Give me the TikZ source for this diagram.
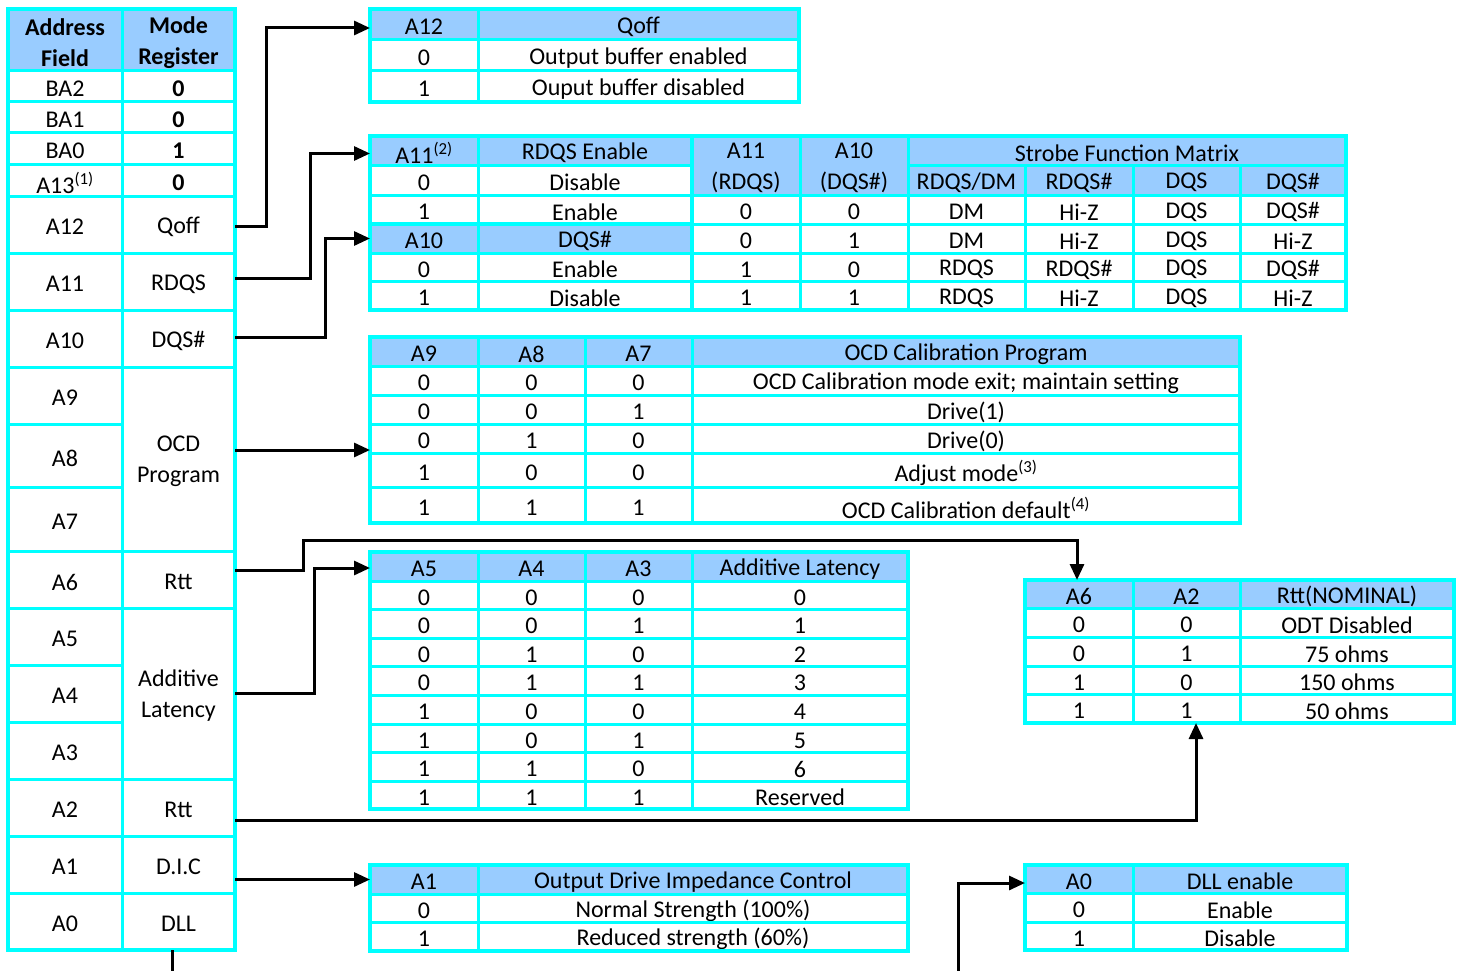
\documentclass[tikz,border=0pt]{standalone}
\usepackage{fontspec}
\setmainfont{Carlito}
\usetikzlibrary{arrows.meta}

\definecolor{hdrblue}{HTML}{99CCFF}
\definecolor{gridcyan}{HTML}{00FFFF}

\tikzset{
  cell/.style={draw=gridcyan,line width=3pt,fill=white,inner sep=0pt,outer sep=0pt},
  celltext/.style={inner sep=0pt,align=center,font=\fontsize{24}{31}\selectfont},
  hcell/.style={fill=hdrblue},
  frame/.style={draw=gridcyan,line width=4.5pt},
  conn/.style={draw=black,line width=3pt,-{Triangle[length=16pt,width=14pt]}},
}

% \regcell[opts]{name}{x1}{y1}{x2}{y2}{text}, corners in pixels
\newcommand{\regcell}[7][]{\node[cell,#1,minimum width={(#5-#3)*1pt},minimum height={(#6-#4)*1pt}] (#2) at ({(#3+#5)/2},{(#4+#6)/2}) {};
  \node[celltext] (#2t) at ([yshift=-2.5pt]#2.center) {#7};}

\begin{document}
\begin{tikzpicture}[x=1pt,y=-1pt]
\useasboundingbox (0,0) rectangle (1461,971);
\fill[white] (0,0) rectangle (1461,971);
\clip (0,0) rectangle (1461,971);

% mode register fields
\regcell[hcell]{mhA}{8}{9}{122}{71}{\textbf{Address}\\\textbf{Field}}
\regcell[hcell]{mhM}{122}{9}{235}{71}{\textbf{Mode}\\\textbf{Register}}
\regcell{mBA2}{8}{71}{122}{102}{BA2}
\regcell{mBA2v}{122}{71}{235}{102}{\textbf{0}}
\regcell{mBA1}{8}{102}{122}{133}{BA1}
\regcell{mBA1v}{122}{102}{235}{133}{\textbf{0}}
\regcell{mBA0}{8}{133}{122}{164}{BA0}
\regcell{mBA0v}{122}{133}{235}{164}{\textbf{1}}
\regcell{mA13}{8}{164}{122}{196}{A13\textsuperscript{(1)}}
\regcell{mA13v}{122}{164}{235}{196}{\textbf{0}}
\regcell{mA12}{8}{196}{122}{253}{A12}
\regcell{mQoff}{122}{196}{235}{253}{Qoff}
\regcell{mA11}{8}{253}{122}{310}{A11}
\regcell{mRDQS}{122}{253}{235}{310}{RDQS}
\regcell{mA10}{8}{310}{122}{367}{A10}
\regcell{mDQS}{122}{310}{235}{367}{DQS\#}
\regcell{mA9}{8}{367}{122}{424}{A9}
\regcell{mA8}{8}{424}{122}{487}{A8}
\regcell{mA7}{8}{487}{122}{551}{A7}
\regcell{mOCD}{122}{367}{235}{551}{OCD\\Program}
\regcell{mA6}{8}{551}{122}{608}{A6}
\regcell{mRttA}{122}{551}{235}{608}{Rtt}
\regcell{mA5}{8}{608}{122}{665}{A5}
\regcell{mA4}{8}{665}{122}{722}{A4}
\regcell{mA3}{8}{722}{122}{779}{A3}
\regcell{mAL}{122}{608}{235}{779}{Additive\\Latency}
\regcell{mA2}{8}{779}{122}{836}{A2}
\regcell{mRttB}{122}{779}{235}{836}{Rtt}
\regcell{mA1}{8}{836}{122}{893}{A1}
\regcell{mDIC}{122}{836}{235}{893}{D.I.C}
\regcell{mA0}{8}{893}{122}{950}{A0}
\regcell{mDLL}{122}{893}{235}{950}{DLL}

% Qoff
\regcell[hcell]{qA12}{370}{9}{478}{40}{A12}
\regcell[hcell]{qQoff}{478}{9}{799}{40}{Qoff}
\regcell{q0}{370}{40}{478}{71}{0}
\regcell{q0v}{478}{40}{799}{71}{Output buffer enabled}
\regcell{q1}{370}{71}{478}{102}{1}
\regcell{q1v}{478}{71}{799}{102}{Ouput buffer disabled}

% RDQS / DQS# and strobe function matrix
\regcell[hcell]{sA11}{370}{136}{478}{165}{A11\textsuperscript{(2)}}
\regcell[hcell]{sRE}{478}{136}{692}{165}{RDQS Enable}
\regcell{sA11a}{370}{165}{478}{195}{0}
\regcell{sA11av}{478}{165}{692}{195}{Disable}
\regcell{sA11b}{370}{195}{478}{224}{1}
\regcell{sA11bv}{478}{195}{692}{224}{Enable}
\regcell[hcell]{sA10}{370}{224}{478}{253}{A10}
\regcell[hcell]{sDQS}{478}{224}{692}{253}{DQS\#}
\regcell{sA10a}{370}{253}{478}{281}{0}
\regcell{sA10av}{478}{253}{692}{281}{Enable}
\regcell{sA10b}{370}{281}{478}{310}{1}
\regcell{sA10bv}{478}{281}{692}{310}{Disable}
\regcell[hcell]{sHA11}{692}{136}{800}{195}{A11\\(RDQS)}
\regcell[hcell]{sHA10}{800}{136}{908}{195}{A10\\(DQS\#)}
\regcell[hcell]{sSFM}{908}{136}{1346}{165}{Strobe Function Matrix}
\regcell[hcell]{sH1}{908}{165}{1025}{195}{RDQS/DM}
\regcell[hcell]{sH2}{1025}{165}{1133}{195}{RDQS\#}
\regcell[hcell]{sH3}{1133}{165}{1240}{195}{DQS}
\regcell[hcell]{sH4}{1240}{165}{1346}{195}{DQS\#}
\regcell{s1a}{692}{195}{800}{224}{0}
\regcell{s1b}{800}{195}{908}{224}{0}
\regcell{s1c}{908}{195}{1025}{224}{DM}
\regcell{s1d}{1025}{195}{1133}{224}{Hi-Z}
\regcell{s1e}{1133}{195}{1240}{224}{DQS}
\regcell{s1f}{1240}{195}{1346}{224}{DQS\#}
\regcell{s2a}{692}{224}{800}{253}{0}
\regcell{s2b}{800}{224}{908}{253}{1}
\regcell{s2c}{908}{224}{1025}{253}{DM}
\regcell{s2d}{1025}{224}{1133}{253}{Hi-Z}
\regcell{s2e}{1133}{224}{1240}{253}{DQS}
\regcell{s2f}{1240}{224}{1346}{253}{Hi-Z}
\regcell{s3a}{692}{253}{800}{281}{1}
\regcell{s3b}{800}{253}{908}{281}{0}
\regcell{s3c}{908}{253}{1025}{281}{RDQS}
\regcell{s3d}{1025}{253}{1133}{281}{RDQS\#}
\regcell{s3e}{1133}{253}{1240}{281}{DQS}
\regcell{s3f}{1240}{253}{1346}{281}{DQS\#}
\regcell{s4a}{692}{281}{800}{310}{1}
\regcell{s4b}{800}{281}{908}{310}{1}
\regcell{s4c}{908}{281}{1025}{310}{RDQS}
\regcell{s4d}{1025}{281}{1133}{310}{Hi-Z}
\regcell{s4e}{1133}{281}{1240}{310}{DQS}
\regcell{s4f}{1240}{281}{1346}{310}{Hi-Z}

% OCD calibration program
\regcell[hcell]{oA9}{370}{337}{478}{366}{A9}
\regcell[hcell]{oA8}{478}{337}{585}{366}{A8}
\regcell[hcell]{oA7}{585}{337}{692}{366}{A7}
\regcell[hcell]{oHd}{692}{337}{1240}{366}{OCD Calibration Program}
\regcell{o1a}{370}{366}{478}{395}{0}
\regcell{o1b}{478}{366}{585}{395}{0}
\regcell{o1c}{585}{366}{692}{395}{0}
\regcell{o1d}{692}{366}{1240}{395}{OCD Calibration mode exit; maintain setting}
\regcell{o2a}{370}{395}{478}{424}{0}
\regcell{o2b}{478}{395}{585}{424}{0}
\regcell{o2c}{585}{395}{692}{424}{1}
\regcell{o2d}{692}{395}{1240}{424}{Drive(1)}
\regcell{o3a}{370}{424}{478}{453}{0}
\regcell{o3b}{478}{424}{585}{453}{1}
\regcell{o3c}{585}{424}{692}{453}{0}
\regcell{o3d}{692}{424}{1240}{453}{Drive(0)}
\regcell{o4a}{370}{453}{478}{487}{1}
\regcell{o4b}{478}{453}{585}{487}{0}
\regcell{o4c}{585}{453}{692}{487}{0}
\regcell{o4d}{692}{453}{1240}{487}{Adjust mode\textsuperscript{(3)}}
\regcell{o5a}{370}{487}{478}{523}{1}
\regcell{o5b}{478}{487}{585}{523}{1}
\regcell{o5c}{585}{487}{692}{523}{1}
\regcell{o5d}{692}{487}{1240}{523}{OCD Calibration default\textsuperscript{(4)}}

% additive latency
\regcell[hcell]{lA5}{370}{552}{478}{581}{A5}
\regcell[hcell]{lA4}{478}{552}{585}{581}{A4}
\regcell[hcell]{lA3}{585}{552}{692}{581}{A3}
\regcell[hcell]{lHd}{692}{552}{908}{581}{Additive Latency}
\regcell{l1a}{370}{581}{478}{609}{0}
\regcell{l1b}{478}{581}{585}{609}{0}
\regcell{l1c}{585}{581}{692}{609}{0}
\regcell{l1d}{692}{581}{908}{609}{0}
\regcell{l2a}{370}{609}{478}{638}{0}
\regcell{l2b}{478}{609}{585}{638}{0}
\regcell{l2c}{585}{609}{692}{638}{1}
\regcell{l2d}{692}{609}{908}{638}{1}
\regcell{l3a}{370}{638}{478}{666}{0}
\regcell{l3b}{478}{638}{585}{666}{1}
\regcell{l3c}{585}{638}{692}{666}{0}
\regcell{l3d}{692}{638}{908}{666}{2}
\regcell{l4a}{370}{666}{478}{695}{0}
\regcell{l4b}{478}{666}{585}{695}{1}
\regcell{l4c}{585}{666}{692}{695}{1}
\regcell{l4d}{692}{666}{908}{695}{3}
\regcell{l5a}{370}{695}{478}{724}{1}
\regcell{l5b}{478}{695}{585}{724}{0}
\regcell{l5c}{585}{695}{692}{724}{0}
\regcell{l5d}{692}{695}{908}{724}{4}
\regcell{l6a}{370}{724}{478}{752}{1}
\regcell{l6b}{478}{724}{585}{752}{0}
\regcell{l6c}{585}{724}{692}{752}{1}
\regcell{l6d}{692}{724}{908}{752}{5}
\regcell{l7a}{370}{752}{478}{781}{1}
\regcell{l7b}{478}{752}{585}{781}{1}
\regcell{l7c}{585}{752}{692}{781}{0}
\regcell{l7d}{692}{752}{908}{781}{6}
\regcell{l8a}{370}{781}{478}{809}{1}
\regcell{l8b}{478}{781}{585}{809}{1}
\regcell{l8c}{585}{781}{692}{809}{1}
\regcell{l8d}{692}{781}{908}{809}{Reserved}

% Rtt
\regcell[hcell]{rA6}{1025}{580}{1133}{608}{A6}
\regcell[hcell]{rA2}{1133}{580}{1240}{608}{A2}
\regcell[hcell]{rHd}{1240}{580}{1454}{608}{Rtt(NOMINAL)}
\regcell{r1a}{1025}{608}{1133}{637}{0}
\regcell{r1b}{1133}{608}{1240}{637}{0}
\regcell{r1c}{1240}{608}{1454}{637}{ODT Disabled}
\regcell{r2a}{1025}{637}{1133}{666}{0}
\regcell{r2b}{1133}{637}{1240}{666}{1}
\regcell{r2c}{1240}{637}{1454}{666}{75 ohms}
\regcell{r3a}{1025}{666}{1133}{694}{1}
\regcell{r3b}{1133}{666}{1240}{694}{0}
\regcell{r3c}{1240}{666}{1454}{694}{150 ohms}
\regcell{r4a}{1025}{694}{1133}{723}{1}
\regcell{r4b}{1133}{694}{1240}{723}{1}
\regcell{r4c}{1240}{694}{1454}{723}{50 ohms}

% output drive impedance control
\regcell[hcell]{dA1}{370}{865}{478}{894}{A1}
\regcell[hcell]{dHd}{478}{865}{908}{894}{Output Drive Impedance Control}
\regcell{d0}{370}{894}{478}{922}{0}
\regcell{d0v}{478}{894}{908}{922}{Normal Strength (100\%)}
\regcell{d1}{370}{922}{478}{951}{1}
\regcell{d1v}{478}{922}{908}{951}{Reduced strength (60\%)}

% DLL enable
\regcell[hcell]{aA0}{1025}{865}{1133}{893}{A0}
\regcell[hcell]{aHd}{1133}{865}{1347}{893}{DLL enable}
\regcell{a0}{1025}{893}{1133}{922}{0}
\regcell{a0v}{1133}{893}{1347}{922}{Enable}
\regcell{a1}{1025}{922}{1133}{950}{1}
\regcell{a1v}{1133}{922}{1347}{950}{Disable}

% outer frames
\draw[frame] (mhA.north west) rectangle (mDLL.south east);
\draw[frame] (qA12.north west) rectangle (q1v.south east);
\draw[frame] (sA11.north west) rectangle (s4f.south east);
\draw[frame] (sRE.north east) -- (sA10bv.south east);
\draw[frame] (sA11b.south west) -- (sA11bv.south east);
\draw[frame] (oA9.north west) rectangle (o5d.south east);
\draw[frame] (lA5.north west) rectangle (l8d.south east);
\draw[frame] (rA6.north west) rectangle (r4c.south east);
\draw[frame] (dA1.north west) rectangle (d1v.south east);
\draw[frame] (aA0.north west) rectangle (a1v.south east);

% connectors
\coordinate (ocdin) at ([yshift=9pt]mOCD.east);
\coordinate (rttbend) at (303,540);
\coordinate (dllbend) at (958,1000);
\draw[conn] ([yshift=-2pt]mQoff.east) -- ++(31,0) |- ([yshift=-3.5pt]qA12.west);
\draw[conn] ([yshift=3.5pt]mRDQS.east) -- ++(75,0) |- ([yshift=-3pt]sA11.west);
\draw[conn] ([yshift=1.5pt]mDQS.east) -- ++(90,0) |- (sA10.west);
\draw[conn] (ocdin) -- (ocdin -| oA9.west);
\draw[conn] ([yshift=9.5pt]mRttA.east) -| (rttbend) -| ([xshift=-2pt]rA6.north);
\draw[conn] (mAL.east) -- ++(79,0) |- ([yshift=-1.5pt]lA5.west);
\draw[conn] ([yshift=-12.5pt]mRttB.east) -| ([xshift=9.5pt]r4b.south);
\draw[conn] (mDIC.east |- dA1.west) -- (dA1.west);
\draw[conn] ([xshift=-6.5pt]mDLL.south) |- (dllbend) |- ([yshift=-4pt]aA0.west);
\end{tikzpicture}
\end{document}
